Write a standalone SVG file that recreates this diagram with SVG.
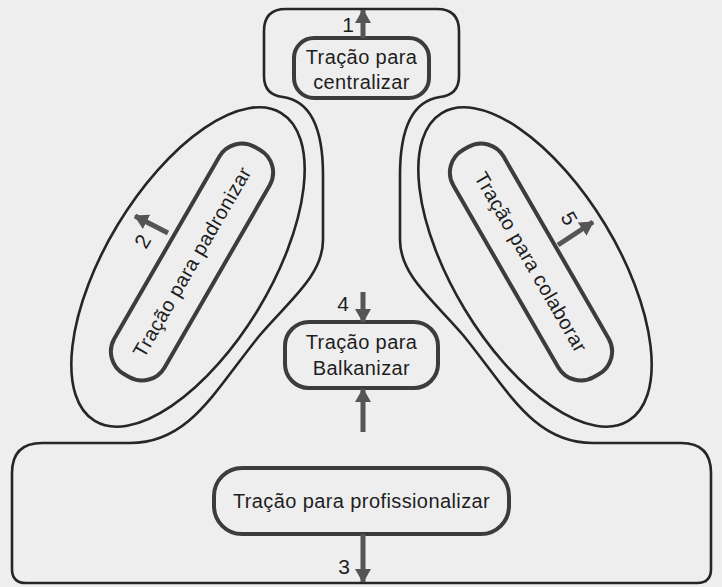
<svg xmlns="http://www.w3.org/2000/svg" width="722" height="587" viewBox="0 0 722 587">
  <style>
    .outline { fill: none; stroke: #262626; stroke-width: 2.6; stroke-linejoin: round; }
    .box { fill: none; stroke: #3c3c3c; stroke-width: 4; }
    .label { font-family: "Liberation Sans", Arial, sans-serif; font-size: 20px; fill: #1e1e1e; text-anchor: middle; letter-spacing: 0.4px; }
    .num { font-family: "Liberation Sans", Arial, sans-serif; font-size: 21px; fill: #1e1e1e; text-anchor: middle; }
    .shaft { stroke: #555555; stroke-width: 5; fill: none; }
  </style>
  <defs>
    <marker id="head" markerUnits="userSpaceOnUse" markerWidth="18" markerHeight="18" refX="13" refY="8" orient="auto">
      <path d="M0,0 L14,8 L0,16 Z" fill="#555555"/>
    </marker>
  </defs>

  <rect width="722" height="587" fill="#eeeeee"/>

  <!-- organisation outline: apex, middle line and operating core -->
  <g id="outline">
    <path class="outline" d="M 286,9 H 437 Q 459,9 459,31 V 76 Q 459,95 440,97 C 412,101 400,130 400,175 V 240 C 400,275 433,300 463,335 C 508,390 533,443 593,443 H 681 Q 711,443 711,473 V 569 Q 711,583 697,583 H 26 Q 12,583 12,569 V 473 Q 12,443 42,443 H 130 C 190,443 215,390 260,335 C 290,300 323,275 323,240 V 175 C 323,130 311,101 283,97 Q 264,95 264,76 V 31 Q 264,9 286,9 Z"/>
  </g>

  <!-- side units -->
  <g id="technostructure">
    <ellipse class="outline" cx="188" cy="267" rx="180" ry="82" transform="rotate(-58.8 188 267)"/>
  </g>
  <g id="support-staff">
    <ellipse class="outline" cx="535" cy="267" rx="180" ry="82" transform="rotate(58.8 535 267)"/>
  </g>

  <g id="centralizar">
    <rect class="box" x="294" y="38" width="135" height="60" rx="20"/>
    <text class="label" x="361.5" y="64">Tração para</text>
    <text class="label" x="361.5" y="89">centralizar</text>
  </g>

  <g id="padronizar" transform="rotate(-60 192 262)">
    <rect class="box" x="61" y="233" width="262" height="58" rx="26"/>
    <text class="label" x="192" y="269">Tração para padronizar</text>
  </g>

  <g id="colaborar" transform="rotate(60 531 262)">
    <rect class="box" x="400" y="233" width="262" height="58" rx="26"/>
    <text class="label" x="531" y="269">Tração para colaborar</text>
  </g>

  <g id="balkanizar">
    <rect class="box" x="285" y="322" width="153" height="66" rx="24"/>
    <text class="label" x="361.5" y="349">Tração para</text>
    <text class="label" x="361.5" y="375">Balkanizar</text>
  </g>

  <g id="profissionalizar">
    <rect class="box" x="214" y="468" width="295" height="66" rx="28"/>
    <text class="label" x="361.5" y="508">Tração para profissionalizar</text>
  </g>

  <!-- pulls -->
  <g id="connectors">
    <line class="shaft" x1="363" y1="38" x2="363" y2="10" marker-end="url(#head)"/>
    <line class="shaft" x1="168" y1="233" x2="135" y2="216" marker-end="url(#head)"/>
    <line class="shaft" x1="363" y1="534" x2="363" y2="582" marker-end="url(#head)"/>
    <line class="shaft" x1="363" y1="292" x2="363" y2="322" marker-end="url(#head)"/>
    <line class="shaft" x1="363" y1="432" x2="363" y2="389" marker-end="url(#head)"/>
    <line class="shaft" x1="558" y1="245" x2="593" y2="222" marker-end="url(#head)"/>
    <text class="num" x="348" y="32">1</text>
    <text class="num" x="149" y="245" transform="rotate(-60 149 245)">2</text>
    <text class="num" x="344" y="574">3</text>
    <text class="num" x="343" y="311">4</text>
    <text class="num" x="563" y="222" transform="rotate(60 563 222)">5</text>
  </g>
</svg>
